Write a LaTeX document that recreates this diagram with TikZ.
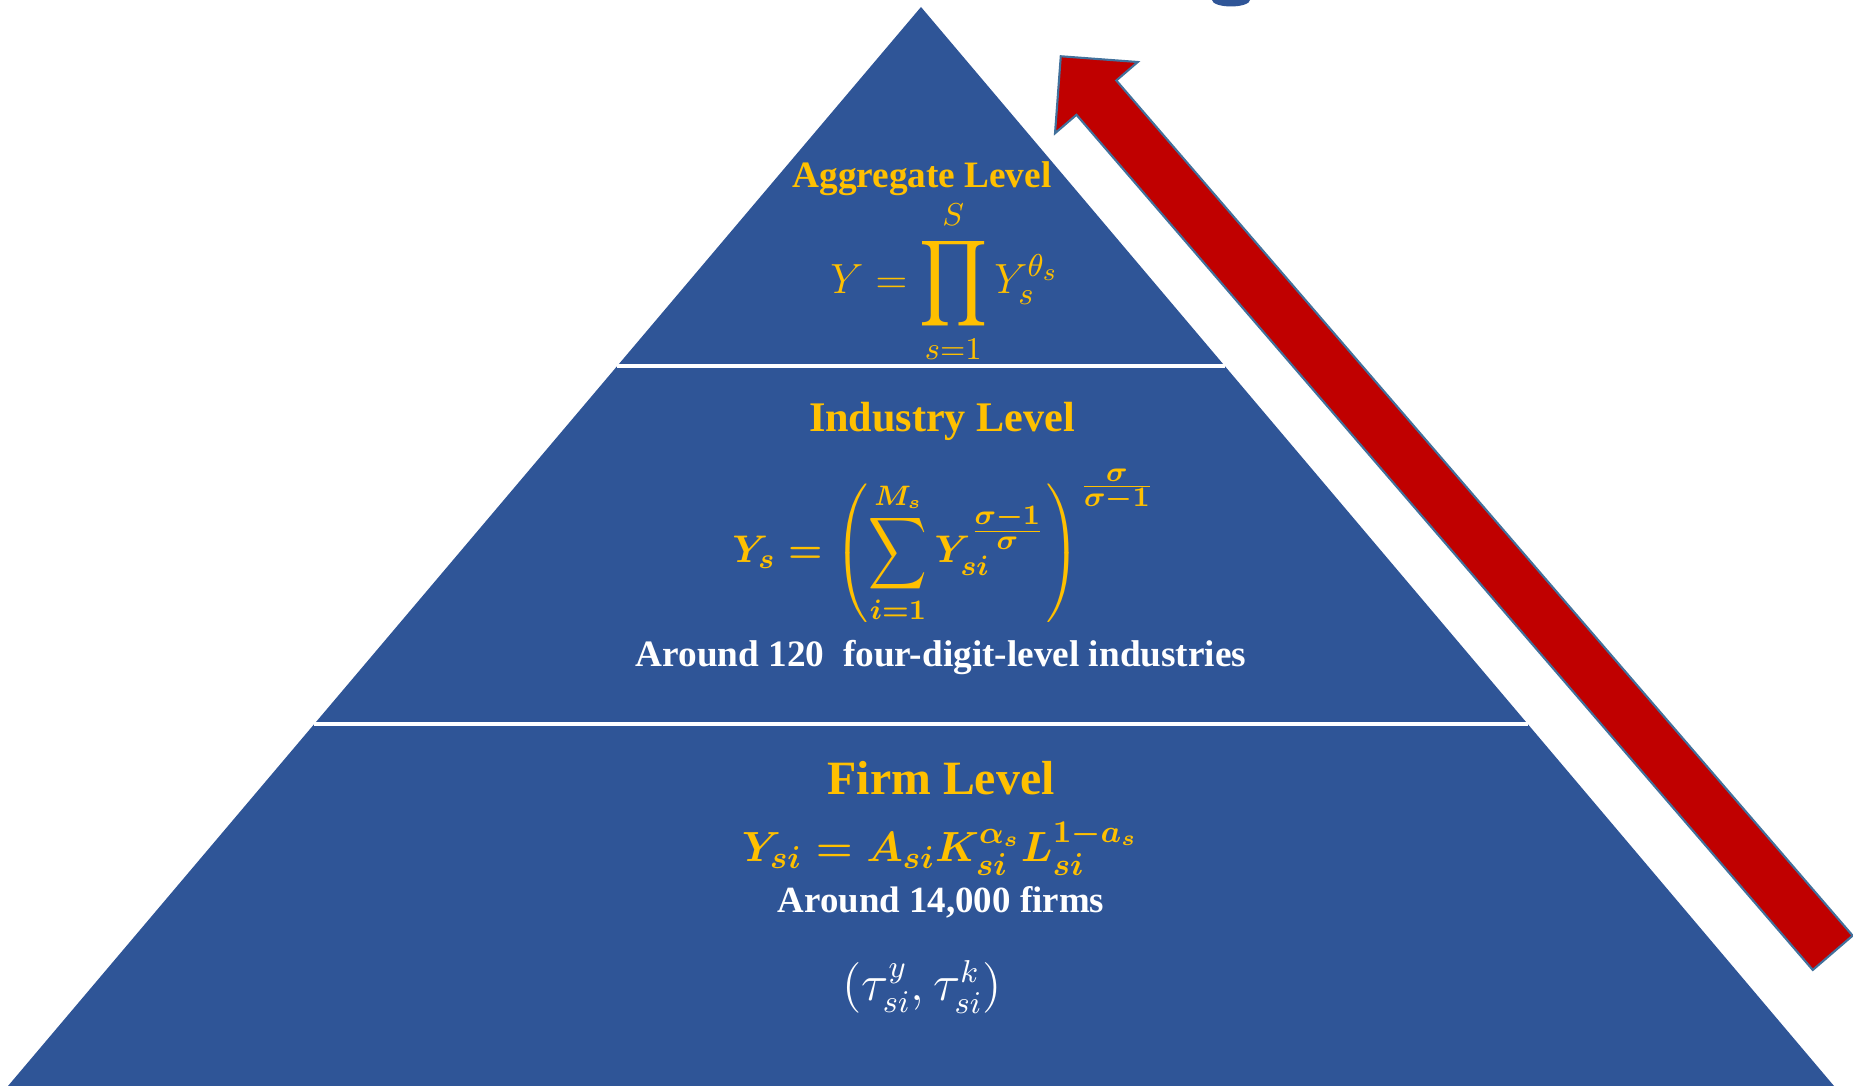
\documentclass[tikz,border=0pt]{standalone}
\usepackage{amsmath,amssymb}
\usepackage{graphicx}
\usepackage{fontspec}
\setmainfont{Liberation Serif}
\usepackage{xcolor}
\usepackage{tikz}
\usetikzlibrary{calc}
\definecolor{pyrblue}{RGB}{47,85,151}
\definecolor{pyrgold}{RGB}{255,192,0}
\definecolor{upred}{RGB}{192,0,0}
\definecolor{upedge}{RGB}{65,113,156}
\newcommand{\tallprod}{\mathop{\vcenter{\hbox{\scalebox{1.15}[1.3]{$\displaystyle\prod$}}}}\limits}
\newcommand{\tallsum}{\mathop{\vcenter{\hbox{\scalebox{1.05}[1.3]{$\displaystyle\sum$}}}}\limits}
\newcommand{\aggform}{$\displaystyle Y=\tallprod_{s=1}^{S}Y_s^{\theta_s}$}
\newcommand{\indform}{{\boldmath$\displaystyle Y_s=\left(\tallsum_{i=1}^{M_s}Y_{si}^{\frac{\scriptstyle\sigma-1}{\scriptstyle\sigma}}\right)^{\frac{\scriptstyle\sigma}{\scriptstyle\sigma-1}}$}}
\newcommand{\firmform}{{\boldmath$Y_{si}=A_{si}K_{si}^{\alpha_s}L_{si}^{1-a_s}$}}
\newcommand{\wedgeform}{$\left(\tau_{si}^{y},\tau_{si}^{k}\right)$}
\tikzset{
  tier/.style ={fill=pyrblue},
  gap/.style  ={draw=white, line width=0.9pt, line cap=butt},
  lvl/.style  ={text=pyrgold, font=\bfseries, inner sep=0pt, anchor=base},
  cnt/.style  ={text=white, font=\bfseries, inner sep=0pt, anchor=base},
  eqn/.style  ={text=pyrgold, inner sep=0pt, anchor=base},
  upar/.style ={fill=upred, draw=upedge, line width=0.6pt, line join=miter},
}
\begin{document}
\begin{tikzpicture}[scale=1]
  \useasboundingbox (0,0) rectangle (18.53,10.86);
  \coordinate (apex) at (9.21,10.79);
  \coordinate (bl) at (0.08,0);
  \coordinate (br) at (18.34,0);
  \fill[tier] (bl) -- (apex) -- (br) -- cycle;
  \draw[gap] ($(apex)!0.3327!(bl)$) -- ($(apex)!0.3327!(br)$);
  \draw[gap] ($(apex)!0.6645!(bl)$) -- ($(apex)!0.6645!(br)$);
  \fill[tier] (12.12,10.86) arc[start angle=180,end angle=360,x radius=0.19,y radius=0.065];
  \begin{scope}[shift={(18.327,1.332)},rotate=130.73]
  \draw[upar] (0,-0.263) -- (11.285,-0.263) -- (11.285,-0.546) -- (11.831,0)
    -- (11.285,0.546) -- (11.285,0.263) -- (0,0.263) -- cycle;
  \end{scope}
  \node[lvl,font=\fontsize{10.6}{12.7}\selectfont\bfseries] (aggtitle) at (9.22,8.98) {Aggregate Level};
  \node[eqn,font=\fontsize{13.2}{16}\selectfont] (aggeq) at (9.45,7.92) {\aggform};
  \node[lvl,font=\fontsize{12}{14.4}\selectfont\bfseries] (indtitle) at (9.42,6.54) {Industry Level};
  \node[eqn,font=\fontsize{11}{13.2}\selectfont] (indeq) at (9.44,5.23) {\indform};
  \node[cnt,font=\fontsize{10.6}{12.7}\selectfont\bfseries] (indnote) at (9.41,4.19) {Around 120\ \ four-digit-level industries};
  \node[lvl,font=\fontsize{13.6}{16}\selectfont\bfseries] (firmtitle) at (9.41,2.91) {Firm Level};
  \node[eqn,font=\fontsize{12.2}{14.6}\selectfont] (firmeq) at (9.40,2.24) {\firmform};
  \node[cnt,font=\fontsize{10.5}{12.6}\selectfont\bfseries] (firmnote) at (9.41,1.73) {Around 14,000 firms};
  \node[eqn,text=white,font=\fontsize{13.5}{16}\selectfont] (wedges) at (9.22,0.85) {\wedgeform};
\end{tikzpicture}
\end{document}
